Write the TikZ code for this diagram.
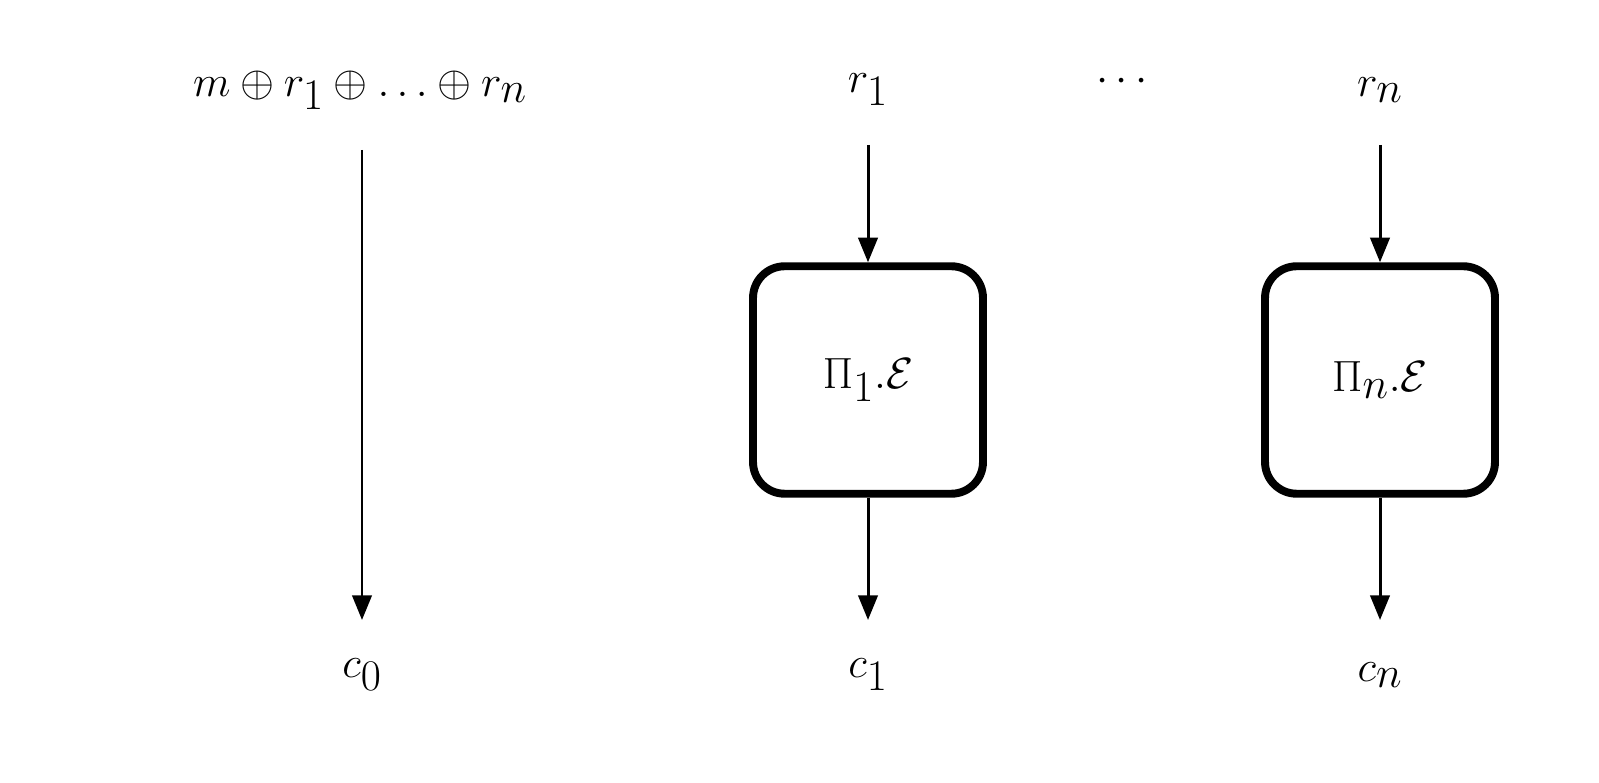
\documentclass[tikz,border=0pt]{standalone}
\usetikzlibrary{arrows.meta}
\begin{document}
\begin{tikzpicture}[x=0.02cm,y=-0.02cm,
  lab/.style={font=\fontsize{36}{40}\selectfont, inner sep=0pt},
  arr/.style={line width=1.7pt,-{Triangle[length=14pt,width=11pt]}},
  boxn/.style={draw, line width=4.5pt, rounded corners=18pt, minimum width=4.6cm, minimum height=4.55cm, font=\fontsize{36}{40}\selectfont}]
\node[lab] (t0) at (360,90) {$m\oplus r_1\oplus\ldots\oplus r_n$};
\node[lab] (t1) at (868,90) {$r_1$};
\node[lab] (dots) at (1122,82) {$\cdots$};
\node[lab] (tn) at (1380,90) {$r_n$};
\node[boxn] (b1) at (868,380) {$\Pi_1.\mathcal{E}$};
\node[boxn] (bn) at (1380,380) {$\Pi_n.\mathcal{E}$};
\node[lab] (c0) at (362,675) {$c_0$};
\node[lab] (c1) at (868,675) {$c_1$};
\node[lab] (cn) at (1380,675) {$c_n$};
\coordinate (s0) at (362,150);
\coordinate (e0) at (362,620);
\draw[arr] (s0) -- (e0);
\draw[arr] (868,145) -- (b1.north);
\draw[arr] (1380,145) -- (bn.north);
\draw[arr] (b1.south) -- (868,620);
\draw[arr] (bn.south) -- (1380,620);
\pgfresetboundingbox
\useasboundingbox (0,0) rectangle (1599,783);
\end{tikzpicture}
\end{document}
